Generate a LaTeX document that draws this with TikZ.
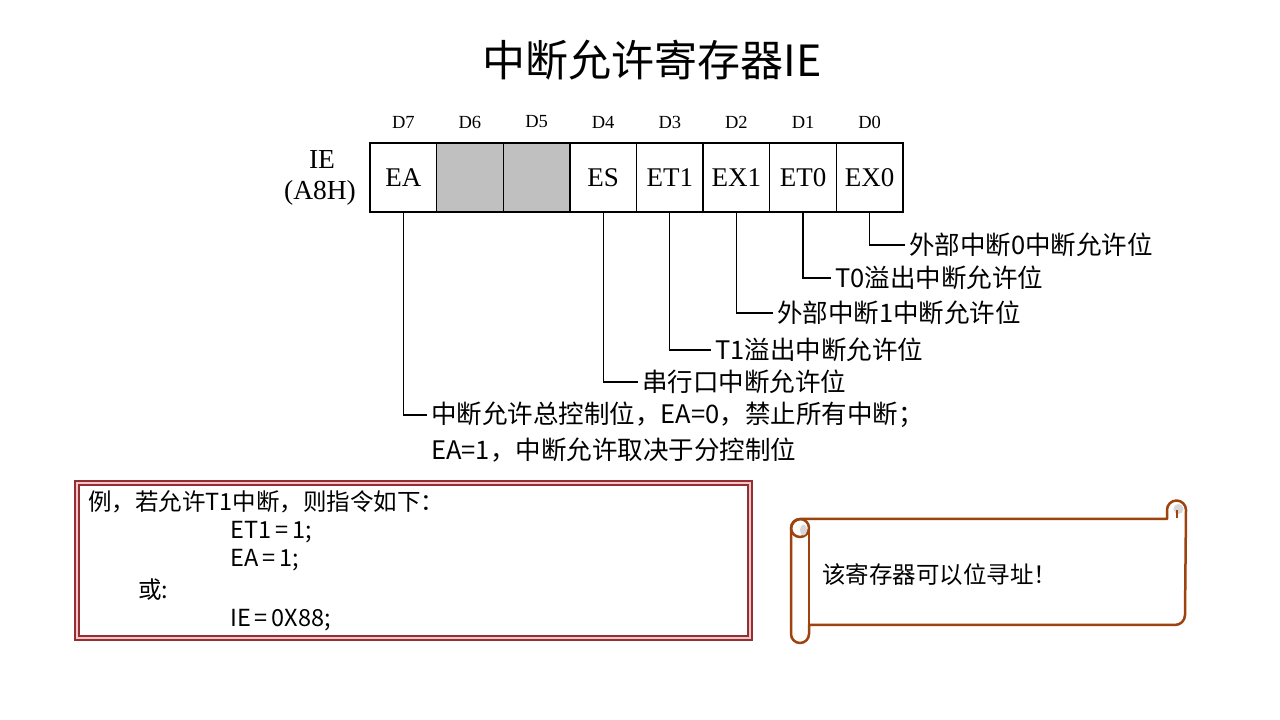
\documentclass[tikz,border=0pt]{standalone}
\usepackage{fontspec}
\setmainfont{Liberation Serif}
\newfontfamily\cjk{Noto Sans CJK SC}
\newfontfamily\tms{Liberation Serif}
\definecolor{scrollc}{RGB}{158,66,14}
\definecolor{boxred}{RGB}{150,45,50}
\definecolor{boxpink}{RGB}{238,200,200}
\definecolor{cellgray}{RGB}{192,192,192}
\definecolor{curlgray}{RGB}{215,215,215}
\tikzset{
  cell/.style={draw=black,line width=1.3pt,minimum width=66.6pt,minimum height=69pt,inner sep=0pt,outer sep=0pt,font=\tms\fontsize{27}{30}\selectfont},
  bitlbl/.style={font=\tms\fontsize{18.5}{21}\selectfont,inner sep=0pt},
  leadlbl/.style={anchor=west,inner sep=4pt,font=\cjk\fontsize{25.5}{29}\selectfont},
  leader/.style={line width=1.3pt,draw=black},
  extxt/.style={anchor=west,inner sep=0pt,font=\cjk\fontsize{23.5}{27}\selectfont},
  scrollln/.style={draw=scrollc,line width=2.5pt,line join=round}
}
\begin{document}
\begin{tikzpicture}[x=1pt,y=1pt]
\useasboundingbox (0,0) rectangle (1280,720);
\fill[white] (0,0) rectangle (1280,720);

% title
\node[font=\cjk\fontsize{43}{48}\selectfont,inner sep=0pt] (title) at (652,660) {中断允许寄存器IE};

% register cells
\foreach \i/\nm/\txt/\fil in {0/c7/EA/white,1/c6//cellgray,2/c5//cellgray,3/c4/ES/white,4/c3/ET1/white,5/c2/EX1/white,6/c1/ET0/white,7/c0/EX0/white}{
  \node[cell,fill=\fil] (\nm) at ({370+66.625*(\i+0.5)},542.5) {\txt};
}
\foreach \i/\nm/\txt in {0/d7/D7,1/d6/D6,2/d5/D5,3/d4/D4,4/d3/D3,5/d2/D2,6/d1/D1,7/d0/D0}{
  \node[bitlbl] (\nm) at ({370+66.625*(\i+0.5)},598) {\txt};
}
\node[font=\tms\fontsize{27.5}{30}\selectfont,inner sep=0pt] (ie) at (322,560) {IE};
\node[font=\tms\fontsize{27.5}{30}\selectfont,inner sep=0pt] (ieaddr) at (320,527) {(A8H)};

% leader labels
\node[leadlbl] (l0) at (905,475) {外部中断0中断允许位};
\node[leadlbl] (l1) at (831,442) {T0溢出中断允许位};
\node[leadlbl] (l2) at (773,407) {外部中断1中断允许位};
\node[leadlbl] (l3) at (711,370) {T1溢出中断允许位};
\node[leadlbl] (l4) at (638,338) {串行口中断允许位};
\node[leadlbl] (l7) at (427,305) {中断允许总控制位，EA=0，禁止所有中断；};
\node[leadlbl] (l7b) at (427,270) {EA=1，中断允许取决于分控制位};

\draw[leader] (c0.south) |- (l0.west);
\draw[leader] (c1.south) |- (l1.west);
\draw[leader] (c2.south) |- (l2.west);
\draw[leader] (c3.south) |- (l3.west);
\draw[leader] (c4.south) |- (l4.west);
\draw[leader] (c7.south) |- (l7.west);

% example box
\draw[boxred,line width=1.2pt,fill=boxpink] (75,80) rectangle (752,239);
\draw[boxred,line width=1.2pt,fill=white] (79,84) rectangle (748,235);
\node[extxt] (ex1) at (88,218) {例，若允许T1中断，则指令如下：};
\node[extxt] (ex2) at (230,188) {ET1\,=\,1;};
\node[extxt] (ex3) at (230,160) {EA\,=\,1;};
\node[extxt] (ex4) at (138,130) {或:};
\node[extxt] (ex5) at (230,100) {IE\,=\,0X88;};

% scroll body with left roll outline
\draw[scrollln,fill=white] (809,95) -- (1175,95)
   arc[start angle=-90,end angle=0,radius=10] -- (1186,210)
   arc[start angle=0,end angle=180,radius=9.5] -- (1167,201) -- (801,201)
   arc[start angle=90,end angle=180,radius=10] -- (791,86)
   arc[start angle=180,end angle=360,radius=9] -- cycle;
% right curl
\fill[curlgray] (1178.5,211) circle (5);
\draw[scrollln,line width=2pt] (1176.5,210) -- (1176.5,202);
% left curl
\draw[scrollln] (800,192) circle (9);
\fill[curlgray] (803.5,190) ellipse (3.5 and 5.5);
\draw[scrollln] (809,192) -- (809,86);
\node[anchor=west,inner sep=0pt,font=\cjk\fontsize{23.5}{27}\selectfont] (note) at (822,145) {该寄存器可以位寻址！};
\end{tikzpicture}
\end{document}
